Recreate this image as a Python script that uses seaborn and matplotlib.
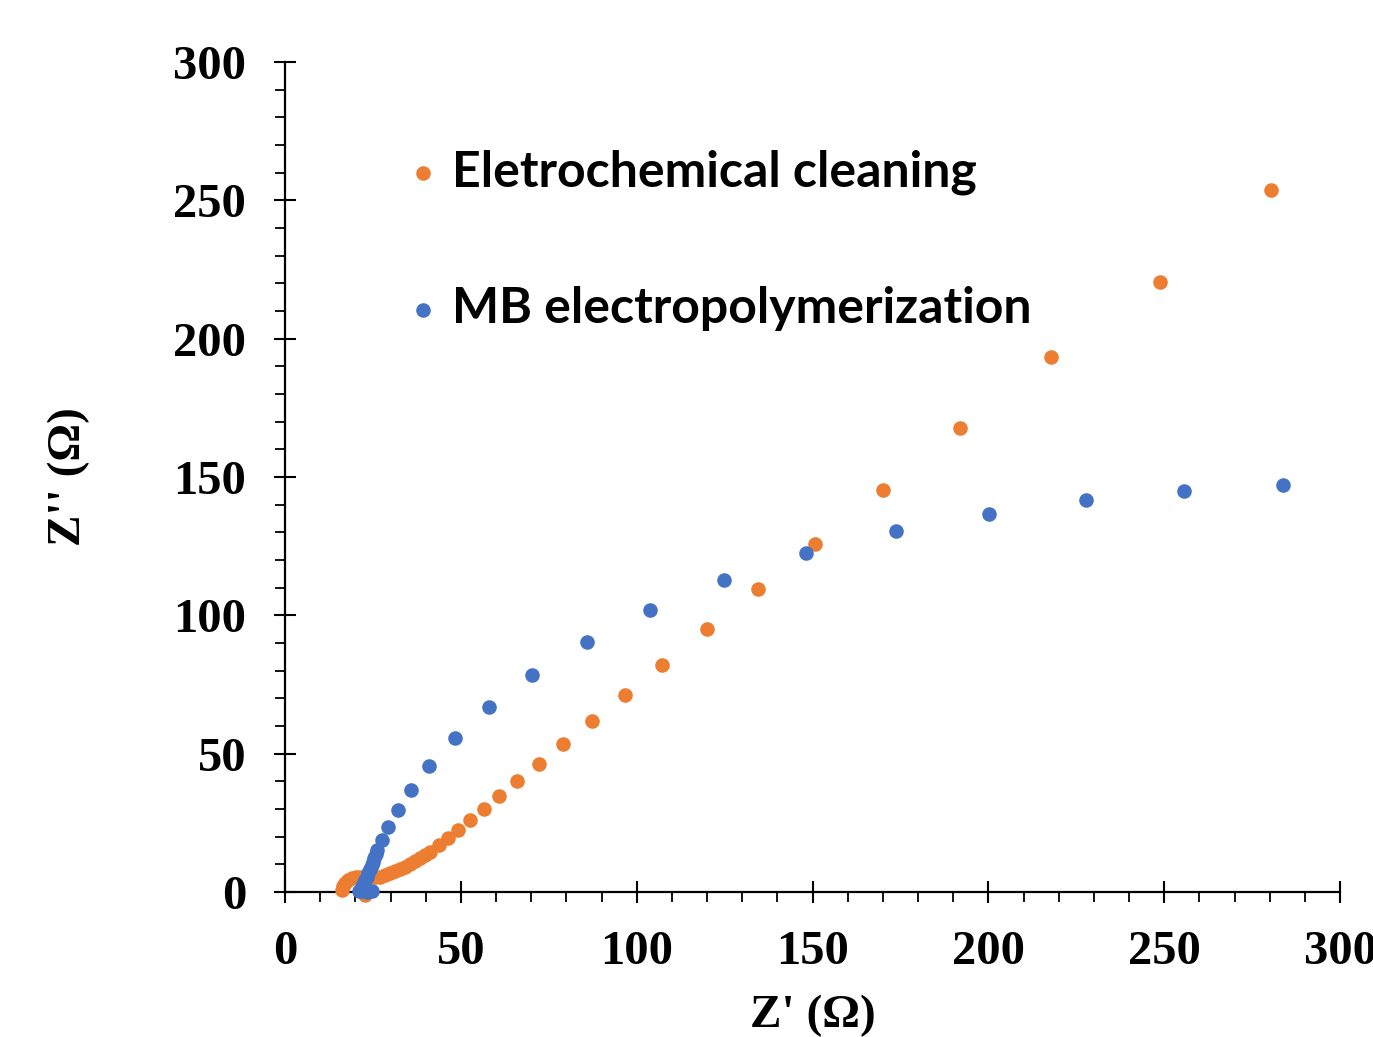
import matplotlib
matplotlib.use("Agg")
import matplotlib.pyplot as plt
import seaborn as sns
import pandas as pd
from matplotlib.ticker import MultipleLocator

# ---- data ----
clean_x = [16.1, 16.6, 17.1, 18.0, 19.0, 20.2, 21.3, 22.7, 24.2, 25.6, 27.0, 28.5,
           29.9, 31.3, 32.7, 34.1, 35.5, 37.0, 38.4, 39.8, 41.2, 43.7, 46.4, 49.2,
           52.6, 56.6, 60.9, 66.0, 72.2, 79.0, 87.3, 96.7, 107.2, 120.0, 134.5,
           150.7, 170.0, 191.9, 217.8, 248.8, 280.4, 22.8]
clean_y = [0.7, 2.0, 3.3, 4.3, 5.0, 5.4, 5.5, 5.5, 5.4, 5.4, 5.5, 6.1,
           6.9, 7.6, 8.3, 9.2, 10.1, 11.2, 12.3, 13.4, 14.6, 16.9, 19.5, 22.4,
           26.0, 30.0, 34.7, 40.1, 46.3, 53.5, 61.8, 71.2, 82.0, 95.1, 109.5,
           125.8, 145.3, 167.7, 193.4, 220.5, 253.7, -1.2]

mb_x = [22.3, 23.2, 24.6, 21.1, 21.8, 22.3, 22.8, 23.2, 23.7, 24.1, 24.6, 25.0,
        25.4, 25.8, 26.2, 27.5, 29.4, 32.0, 35.8, 40.9, 48.3, 58.0, 70.2, 85.9,
        103.8, 124.8, 148.2, 173.7, 200.2, 227.8, 255.6, 283.8]
mb_y = [0.2, 0.1, 0.5, 0.5, 1.9, 3.0, 4.3, 5.5, 6.8, 8.3, 9.8, 11.0,
        12.2, 13.7, 15.2, 18.8, 23.6, 29.6, 36.9, 45.5, 55.7, 66.9, 78.4, 90.4,
        101.9, 112.8, 122.5, 130.5, 136.6, 141.7, 144.9, 147.1]

series_names = ["Eletrochemical cleaning", "MB electropolymerization"]
colors = ["#ED7D31", "#4472C4"]
x_ticks = [0, 50, 100, 150, 200, 250, 300]
y_ticks = [0, 50, 100, 150, 200, 250, 300]

df_clean = pd.DataFrame({"x": clean_x, "y": clean_y})
df_mb = pd.DataFrame({"x": mb_x, "y": mb_y})

sns.set_style("white")
plt.rcParams["font.family"] = ["Liberation Serif", "DejaVu Serif"]
plt.rcParams["text.color"] = "black"
plt.rcParams["axes.labelcolor"] = "black"
plt.rcParams["xtick.color"] = "black"
plt.rcParams["ytick.color"] = "black"

fig = plt.figure(figsize=(13.73, 10.37), dpi=100)
ax = fig.add_axes([0.2076, 0.1398, 0.7684, 0.8004])

sns.scatterplot(data=df_clean, x="x", y="y", ax=ax, color=colors[0], s=110,
                linewidth=0, label=series_names[0], clip_on=False, zorder=3)
sns.scatterplot(data=df_mb, x="x", y="y", ax=ax, color=colors[1], s=110,
                linewidth=0, label=series_names[1], clip_on=False, zorder=4)

ax.set_xlim(0, 300)
ax.set_ylim(0, 300)
ax.set_xticks(x_ticks)
ax.set_yticks(y_ticks)
ax.xaxis.set_minor_locator(MultipleLocator(10))
ax.yaxis.set_minor_locator(MultipleLocator(10))

for s in ["top", "right"]:
    ax.spines[s].set_visible(False)
for s in ["left", "bottom"]:
    ax.spines[s].set_linewidth(1.6)
    ax.spines[s].set_color("black")

ax.tick_params(which="both", bottom=True, left=True, top=False, right=False)
ax.tick_params(which="major", direction="inout", length=16, width=1.5, color="black")
ax.tick_params(which="minor", direction="out", length=7, width=1.3, color="black")
ax.tick_params(axis="x", which="major", pad=19, labelsize=35, labelcolor="black")
ax.tick_params(axis="y", which="major", pad=20, labelsize=35, labelcolor="black")
for lab in ax.get_xticklabels() + ax.get_yticklabels():
    lab.set_fontweight("bold")

ax.set_xlabel("Z' (Ω)", fontsize=34, fontweight="bold", labelpad=15, color="black")
ax.set_ylabel("Z'' (Ω)", fontsize=34, fontweight="bold", labelpad=60, color="black")

leg = ax.legend(loc="upper left", bbox_to_anchor=(0.098, 0.919), frameon=False,
                prop={"family": "Lato", "weight": "bold", "size": 36},
                handlelength=0.6, handletextpad=0.27, labelspacing=1.82,
                markerscale=1.0, borderaxespad=0)
for t in leg.get_texts():
    t.set_color("black")

fig.savefig("out.png", dpi=100)
